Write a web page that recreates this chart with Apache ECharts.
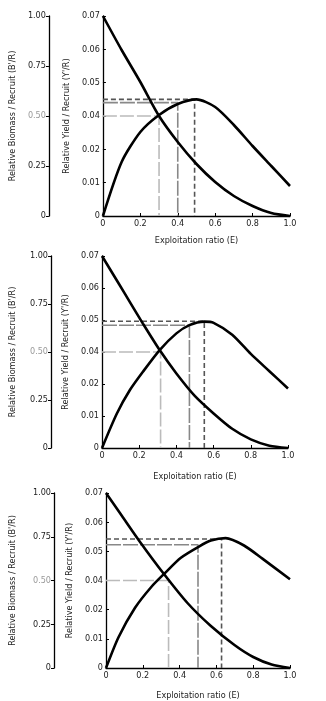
<!DOCTYPE html>
<html>
<head>
<meta charset="utf-8">
<script src="https://cdn.jsdelivr.net/npm/echarts@6/dist/echarts.min.js"></script>
<style>
  html, body { margin: 0; padding: 0; background: #fff; }
  #chart { width: 326px; height: 701px; }
</style>
</head>
<body>
<div id="chart"></div>
<script>
// 刻度标签
const bioTickLabels = ['0', '0.25', '0.50', '0.75', '1.00'];
const yldTickLabels = ['0', '0.01', '0.02', '0.04', '0.05', '0.06', '0.07'];

// 曲线数据（纵轴以高度比例 0~1 读出）
// 图 1
const bioE1 = [0, 0.1, 0.2, 0.3, 0.4, 0.5, 0.6, 0.7, 0.8, 0.9, 1.0];
const bio1 = [1.0, 0.83, 0.67, 0.5, 0.37, 0.26, 0.17, 0.1, 0.05, 0.015, 0];
const yldE1 = [0, 0.1, 0.2, 0.3, 0.4, 0.5, 0.6, 0.7, 0.8, 0.9, 1.0];
const yld1 = [0, 0.27, 0.42, 0.505, 0.56, 0.583, 0.545, 0.455, 0.35, 0.25, 0.15];
// 图 2
const bioE2 = [0, 0.089, 0.15, 0.22, 0.31, 0.4, 0.5, 0.6, 0.7, 0.8, 0.9, 1.0];
const bio2 = [1.0, 0.858, 0.76, 0.648, 0.51, 0.388, 0.27, 0.18, 0.1, 0.045, 0.012, 0];
const yldE2 = [0, 0.08, 0.15, 0.22, 0.31, 0.4, 0.47, 0.55, 0.6, 0.7, 0.8, 0.9, 1.0];
const yld2 = [0, 0.18, 0.302, 0.397, 0.51, 0.597, 0.64, 0.658, 0.652, 0.59, 0.49, 0.4, 0.31];
// 图 3
const bioE3 = [0, 0.086, 0.184, 0.315, 0.444, 0.57, 0.7, 0.8, 0.9, 1.0];
const bio3 = [1.0, 0.87, 0.722, 0.537, 0.37, 0.24, 0.13, 0.063, 0.02, 0];
const yldE3 = [0, 0.068, 0.157, 0.246, 0.315, 0.407, 0.505, 0.57, 0.65, 0.75, 0.85, 1.0];
const yld3 = [0, 0.176, 0.343, 0.463, 0.537, 0.63, 0.694, 0.728, 0.742, 0.7, 0.625, 0.507];

// 参考虚线 [E, 高度]：深色 / 中灰 / 浅灰
const refDark = [[0.49, 0.583], [0.55, 0.66], [0.628, 0.737]];
const refMid = [[0.40, 0.567], [0.47, 0.639], [0.50, 0.704]];
const refLight = [[0.30, 0.5], [0.315, 0.5], [0.34, 0.5]];

// 布局
const grids = [
  { left: 97, top: 16, width: 193, height: 200 },
  { left: 100, top: 256, width: 188, height: 192 },
  { left: 104, top: 493, width: 186, height: 180 }
];
const outerOffset = [54, 51, 52];
const outerNameGap = [28, 34, 37];
const innerNameGap = [32, 30, 31];
const xNameGap = [20, 24, 23];

const panels = [
  { bioE: bioE1, bio: bio1, yldE: yldE1, yld: yld1 },
  { bioE: bioE2, bio: bio2, yldE: yldE2, yld: yld2 },
  { bioE: bioE3, bio: bio3, yldE: yldE3, yld: yld3 }
];

const FONT = '"Liberation Sans Narrow", "DejaVu Sans Condensed", "Liberation Sans", sans-serif';
const labelStyle = { fontFamily: FONT, fontSize: 9, color: '#222' };

var chart = echarts.init(document.getElementById('chart'));

const xAxes = [], yAxes = [], series = [];

grids.forEach((g, i) => {
  xAxes.push({
    gridIndex: i,
    type: 'value',
    min: 0, max: 1, interval: 0.2,
    name: 'Exploitation ratio (E)',
    nameLocation: 'middle',
    nameGap: xNameGap[i],
    nameTextStyle: labelStyle,
    axisLine: { onZero: false, lineStyle: { color: '#000', width: 1.3 } },
    axisTick: { inside: true, length: 3, lineStyle: { color: '#000' } },
    splitLine: { show: false },
    axisLabel: Object.assign({ margin: 3, formatter: v => (v === 0 ? '0' : v.toFixed(1)) }, labelStyle)
  });
  // 外侧：B'/R
  yAxes.push({
    gridIndex: i,
    type: 'value',
    position: 'left',
    offset: outerOffset[i],
    min: 0, max: 1, interval: 0.25,
    name: "Relative Biomass / Recruit (B'/R)",
    nameLocation: 'middle',
    nameGap: outerNameGap[i],
    nameTextStyle: labelStyle,
    axisLine: { show: true, onZero: false, lineStyle: { color: '#000', width: 1.3 } },
    axisTick: { show: true, length: 3, lineStyle: { color: '#000' } },
    splitLine: { show: false },
    axisLabel: Object.assign({}, labelStyle, {
      margin: 3,
      formatter: (v) => bioTickLabels[Math.round(v * 4)],
      color: (v) => (Math.abs(v - 0.5) < 1e-6 ? '#999' : '#222')
    })
  });
  // 内侧：Y'/R
  yAxes.push({
    gridIndex: i,
    type: 'value',
    position: 'left',
    offset: 0,
    min: 0, max: 6, interval: 1,
    name: "Relative Yield / Recruit (Y'/R)",
    nameLocation: 'middle',
    nameGap: innerNameGap[i],
    nameTextStyle: labelStyle,
    axisLine: { show: true, onZero: false, lineStyle: { color: '#000', width: 1.3 } },
    axisTick: { inside: true, length: 3, lineStyle: { color: '#000' } },
    splitLine: { show: false },
    axisLabel: Object.assign({ margin: 3, formatter: (v) => yldTickLabels[Math.round(v)] }, labelStyle)
  });

  const yIdx = i * 2; // 数据用外侧 0~1 刻度
  const refs = [
    [refLight[i], '#bbb', [14, 3]],
    [refMid[i], '#888', [15, 2]],
    [refDark[i], '#555', [5, 3]]
  ];
  refs.forEach(([pt, color, dash]) => {
    series.push({
      type: 'line',
      xAxisIndex: i, yAxisIndex: yIdx,
      data: [[0, pt[1]], [pt[0], pt[1]], [pt[0], 0]],
      symbol: 'none',
      silent: true,
      lineStyle: { color: color, width: 1.6, type: dash }
    });
  });

  const p = panels[i];
  [[p.bioE, p.bio], [p.yldE, p.yld]].forEach(([xs, ys]) => {
    series.push({
      type: 'line',
      xAxisIndex: i, yAxisIndex: yIdx,
      data: xs.map((e, k) => [e, ys[k]]),
      symbol: 'none', smooth: 0.25,
      lineStyle: { color: '#000', width: 2.6 }
    });
  });
});

const option = {
  animation: false,
  backgroundColor: '#fff',
  grid: grids,
  xAxis: xAxes,
  yAxis: yAxes,
  series: series
};

chart.setOption(option);
</script>
</body>
</html>
